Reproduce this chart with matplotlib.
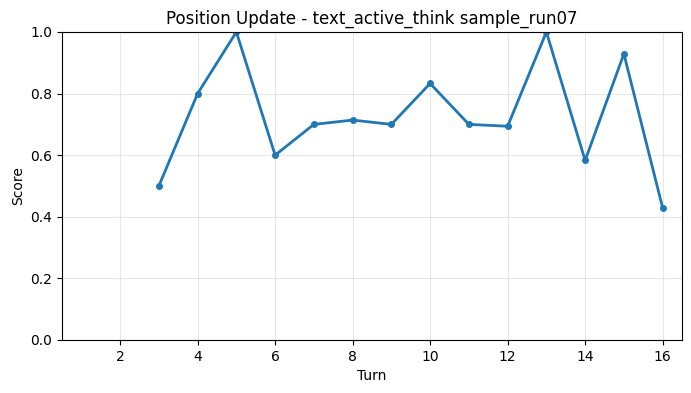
import matplotlib.pyplot as plt

turns = [3, 4, 5, 6, 7, 8, 9, 10, 11, 12, 13, 14, 15, 16]
scores = [0.5, 0.8, 1.0, 0.6, 0.7, 0.714, 0.7, 0.833, 0.7, 0.694, 1.0, 0.583, 0.929, 0.429]

fig = plt.figure(figsize=(6.91, 3.93), dpi=100)
ax = fig.add_axes([0.0897, 0.1349, 0.8973, 0.7837])

ax.plot(turns, scores, marker='o', markersize=4, linewidth=2, color='#1f77b4')
ax.set_xlim(0.5, 16.5)
ax.set_ylim(0, 1)
ax.set_xticks(range(2, 17, 2))
ax.grid(True, alpha=0.3)
ax.set_xlabel('Turn')
ax.set_ylabel('Score')
ax.set_title('Position Update - text_active_think sample_run07')

fig.savefig('out.png', dpi=100)
